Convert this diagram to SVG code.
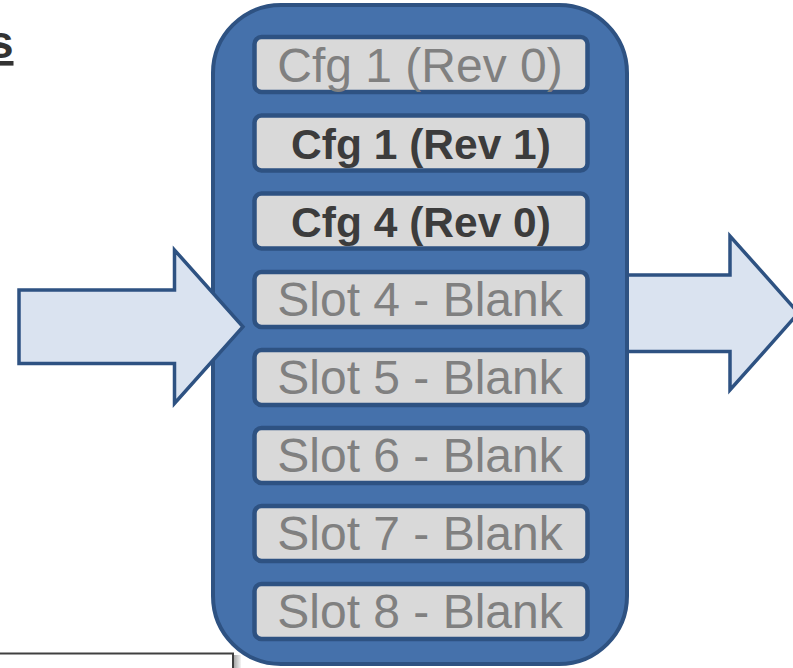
<svg xmlns="http://www.w3.org/2000/svg" width="793" height="668" viewBox="0 0 793 668">
<style>
.arrow{fill:#dae3f0;stroke:#2e5282;stroke-width:3.5;stroke-linejoin:miter}
.frame{fill:#4571ab;stroke:#2e5282;stroke-width:4}
.slot{fill:#d9d9d9;stroke:#2e5282;stroke-width:4.5}
.t{font-family:"Liberation Sans",Arial,sans-serif;text-anchor:middle}
.blank{font-size:48px;fill:#808080}
.bold{font-size:42.5px;font-weight:bold;fill:#3c3c3c}
</style>
<defs>
<linearGradient id="shadow" x1="0" y1="0" x2="1" y2="0">
<stop offset="0" stop-color="#a8a8a8"/>
<stop offset="1" stop-color="#f4f4f4"/>
</linearGradient>
</defs>
<rect width="793" height="668" fill="#ffffff"/>
<g id="title">
<text x="13.5" y="58" font-family="Liberation Sans,Arial,sans-serif" font-size="46" font-weight="bold" fill="#333333" text-anchor="end" text-decoration="underline">s</text>
</g>
<g id="connectors">
<polygon id="arrow-out" class="arrow" points="605,275 730,275 730,236 798.5,313 730,390 730,351.5 605,351.5"/>
</g>
<g id="buffer">
<rect class="frame" x="213" y="5" width="414" height="659" rx="68" ry="68"/>
</g>
<g id="slot1"><rect class="slot" x="254.5" y="37" width="333" height="55" rx="7"/><text class="t blank" x="420" y="81.5">Cfg 1 (Rev 0)</text></g>
<g id="slot2"><rect class="slot" x="254.5" y="115.5" width="333" height="55" rx="7"/><text class="t bold" x="421" y="159.3">Cfg 1 (Rev 1)</text></g>
<g id="slot3"><rect class="slot" x="254.5" y="193.5" width="333" height="55" rx="7"/><text class="t bold" x="421" y="237.3">Cfg 4 (Rev 0)</text></g>
<g id="slot4"><rect class="slot" x="254.5" y="272" width="333" height="55" rx="7"/><text class="t blank" x="420" y="316">Slot 4 - Blank</text></g>
<g id="slot5"><rect class="slot" x="254.5" y="350" width="333" height="55" rx="7"/><text class="t blank" x="420" y="394">Slot 5 - Blank</text></g>
<g id="slot6"><rect class="slot" x="254.5" y="428" width="333" height="55" rx="7"/><text class="t blank" x="420" y="472">Slot 6 - Blank</text></g>
<g id="slot7"><rect class="slot" x="254.5" y="506" width="333" height="55" rx="7"/><text class="t blank" x="420" y="550">Slot 7 - Blank</text></g>
<g id="slot8"><rect class="slot" x="254.5" y="584" width="333" height="55" rx="7"/><text class="t blank" x="420" y="628">Slot 8 - Blank</text></g>
<g id="arrow-in-group">
<polygon id="arrow-in" class="arrow" points="19,290 174.5,290 174.5,250 243,326.75 174.5,403.5 174.5,363.5 19,363.5"/>
</g>
<g id="box">
<rect x="234" y="655" width="7" height="13" fill="url(#shadow)"/>
<rect x="-5" y="653.5" width="238" height="30" fill="#ffffff" stroke="#404040" stroke-width="2"/>
</g>
</svg>
